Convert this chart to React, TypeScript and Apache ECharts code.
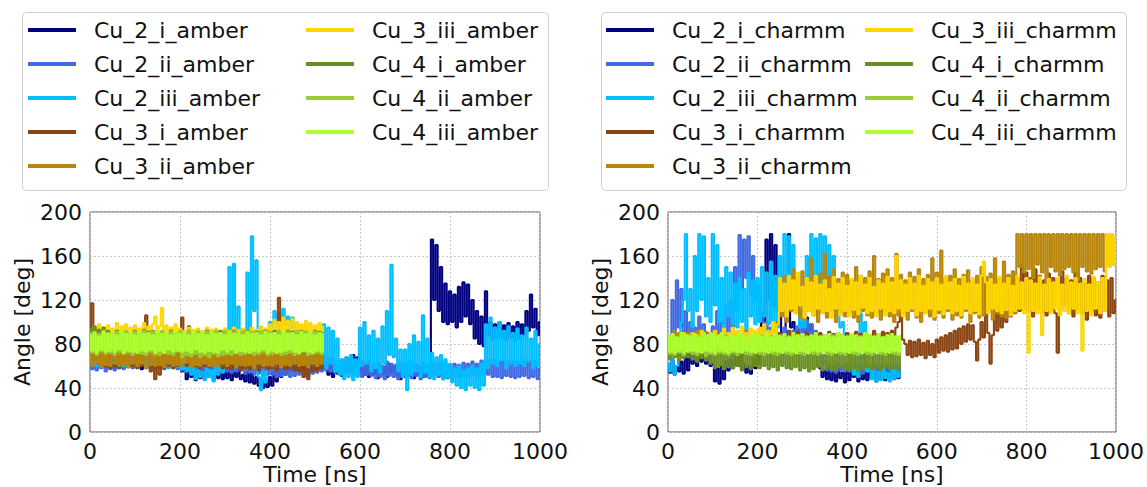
import React, { useEffect, useRef } from "react";
import * as echarts from "echarts";

// time step between samples (ns)
const STEP = 5;
const X_TICKS = [0, 200, 400, 600, 800, 1000];
const Y_TICKS = [0, 40, 80, 120, 160, 200];

const NAMES = ["Cu_2_i", "Cu_2_ii", "Cu_2_iii", "Cu_3_i", "Cu_3_ii", "Cu_3_iii", "Cu_4_i", "Cu_4_ii", "Cu_4_iii"];
const COLORS = ["#000080", "#4169e1", "#00bfff", "#8b4513", "#b8860b", "#ffd700", "#6b8e23", "#9acd32", "#adff2f"];

// ---------- AMBER (angle in degrees, sampled every 5 ns) ----------
const amberCu2i = [
  66,60,68,62,70,61,67,59,69,63,
  64,58,68,61,66,60,70,62,65,59,
  68,61,67,57,66,60,69,62,64,58,
  67,60,68,61,65,59,70,63,66,60,
  62,55,56,48,57,50,58,47,55,49,
  56,48,54,50,57,47,58,49,55,48,
  56,49,58,47,55,50,57,48,52,46,
  55,45,53,44,50,42,48,40,47,41,
  50,42,55,46,58,50,60,52,62,55,
  63,56,62,55,64,57,63,56,65,58,
  64,57,63,56,68,60,52,66,50,62,
  53,64,51,60,54,66,56,70,58,68,
  55,64,52,62,50,60,52,58,49,61,
  53,59,50,62,54,60,51,58,48,57,
  50,60,52,58,49,61,52,60,50,58,
  51,62,175,120,170,110,150,100,135,98,
  128,100,125,95,132,100,136,105,134,98,
  120,85,110,80,105,78,128,88,100,84,
  98,86,100,85,97,84,99,86,96,83,
  100,85,98,88,110,92,125,95,112,88,
  100,
];
const amberCu2ii = [
  64,57,63,56,62,58,64,55,63,57,
  62,56,64,58,63,57,65,59,64,58,
  66,59,65,60,67,58,66,60,65,59,
  66,58,64,57,65,59,66,58,64,57,
  63,56,62,55,64,57,63,56,62,55,
  63,57,64,56,62,55,63,57,62,56,
  62,55,63,54,61,55,62,56,60,53,
  61,54,60,52,59,53,60,51,58,52,
  60,52,58,50,59,51,60,52,58,50,
  59,51,60,52,58,50,59,51,62,53,
  63,54,67,55,66,56,68,55,66,54,
  64,52,66,54,68,56,65,53,62,52,
  64,50,62,52,65,51,63,49,62,50,
  60,48,64,51,62,50,61,48,63,52,
  62,50,64,49,62,51,60,48,63,50,
  61,49,64,51,62,50,63,48,62,49,
  60,48,62,50,61,49,63,50,62,51,
  64,52,62,50,65,51,64,52,66,50,
  65,50,64,49,66,51,64,50,65,49,
  64,50,66,51,65,49,64,50,65,48,
  58,
];
const amberCu2iii = [
  68,62,70,60,67,61,69,63,66,60,
  68,62,67,61,69,60,66,62,68,61,
  67,60,69,62,66,59,68,61,67,60,
  66,59,68,60,67,58,65,60,66,59,
  64,57,62,55,60,52,58,48,56,50,
  55,47,58,50,56,46,60,52,62,54,
  72,64,150,78,153,70,114,68,90,60,
  145,85,178,110,156,50,38,55,45,58,
  100,95,110,98,108,96,112,97,105,94,
  104,92,70,60,75,62,68,58,72,60,
  70,62,68,60,98,58,95,62,92,55,
  85,52,66,48,68,50,70,47,66,50,
  95,60,100,62,88,55,92,58,85,54,
  96,62,110,70,152,68,85,55,75,50,
  75,38,80,52,88,55,82,50,106,54,
  85,50,72,48,68,52,70,48,66,50,
  62,45,58,42,60,40,56,38,58,42,
  60,40,58,38,62,42,98,58,104,62,
  95,60,100,65,92,58,96,62,90,60,
  94,62,88,60,95,64,85,58,92,60,
  80,
];
const amberCu3i = [
  70,117,65,95,62,90,68,60,72,58,
  70,60,72,58,69,61,73,59,70,60,
  71,58,70,60,72,106,68,55,60,48,
  68,52,72,58,70,60,74,58,71,60,
  76,104,75,60,96,62,77,60,78,58,
  76,60,77,59,75,61,78,60,76,58,
  70,58,72,57,70,59,71,56,70,58,
  72,57,70,58,71,56,70,59,72,57,
  70,58,72,56,122,60,71,57,70,58,
  71,56,70,55,72,50,68,48,70,55,
  70,56,72,58,70,
];
const amberCu3ii = [
  74,60,76,62,75,59,77,61,73,60,
  76,62,74,60,77,61,75,59,76,62,
  75,60,78,62,74,58,76,61,75,60,
  77,61,73,59,76,62,75,60,78,61,
  74,60,76,63,75,59,77,61,74,60,
  76,62,75,60,77,61,73,59,76,62,
  75,60,77,62,74,59,76,61,75,60,
  77,61,74,58,76,62,75,60,77,61,
  74,60,76,62,75,59,78,61,74,60,
  76,62,75,60,77,61,74,59,76,62,
  75,60,77,62,74,
];
const amberCu3iii = [
  92,84,96,86,98,85,95,83,97,86,
  94,84,99,85,96,83,98,86,95,84,
  97,85,94,83,99,86,96,84,98,105,
  88,96,113,86,97,84,95,85,98,83,
  94,82,92,84,95,83,93,82,94,84,
  92,83,95,82,93,84,94,83,92,82,
  94,84,92,83,95,82,93,84,94,83,
  92,84,95,83,93,82,96,85,94,84,
  98,86,102,88,100,87,104,86,101,88,
  103,86,100,87,98,85,101,86,99,84,
  97,85,99,84,96,
];
const amberCu4i = [
  94,74,96,76,93,73,95,75,92,74,
  90,73,92,75,89,72,91,74,90,73,
  92,75,90,72,93,74,91,73,92,75,
  90,73,91,74,89,72,92,75,90,73,
  91,74,90,72,92,73,89,75,91,74,
  90,72,92,74,91,73,90,75,92,72,
  91,74,89,73,92,75,90,72,91,74,
  92,73,90,74,91,72,89,75,92,73,
  90,74,92,73,91,75,90,72,92,74,
  91,73,90,74,92,72,91,75,90,73,
  92,74,91,73,90,
];
const amberCu4ii = [
  90,72,91,70,89,73,92,71,90,72,
  89,70,91,73,90,71,92,72,89,70,
  91,72,89,71,92,70,90,73,91,71,
  90,70,92,72,89,71,91,70,90,73,
  91,68,90,70,92,69,89,71,91,68,
  90,70,91,68,89,71,92,69,90,70,
  92,71,90,70,91,72,89,70,92,71,
  90,72,91,70,89,71,92,73,90,70,
  91,71,90,72,92,70,89,71,91,72,
  90,70,92,71,89,73,91,70,90,71,
  91,72,90,71,89,
];
const amberCu4iii = [
  88,74,90,72,87,75,91,73,89,74,
  90,73,88,75,91,72,89,74,90,73,
  88,72,91,74,89,73,90,75,88,72,
  91,74,89,72,90,75,88,73,91,74,
  89,73,90,74,88,72,91,75,89,73,
  90,72,88,74,91,73,89,72,90,75,
  88,73,91,75,89,72,90,74,88,73,
  91,72,89,74,90,73,88,75,91,72,
  89,74,90,72,88,73,91,74,89,75,
  90,73,88,72,91,74,89,73,90,72,
  88,74,90,73,89,
];

// ---------- CHARMM ----------
const charmmCu2i = [
  62,54,66,52,60,55,64,53,68,56,
  70,62,74,60,72,64,76,62,70,60,
  62,46,58,44,60,48,64,56,66,58,
  68,60,70,58,62,54,60,53,66,58,
  70,62,110,90,175,120,180,115,170,110,
  140,90,85,110,180,95,100,88,92,96,
  100,90,104,92,98,86,70,60,58,50,
  56,48,58,47,55,46,57,49,54,45,
  56,47,58,50,55,46,57,48,54,47,
  58,49,56,46,57,48,55,47,58,50,
  56,48,57,49,55,
];
const charmmCu2ii = [
  85,75,120,90,138,95,130,88,110,80,
  100,78,95,80,105,82,98,76,90,78,
  96,80,110,85,100,82,115,90,120,95,
  150,110,179,130,175,140,178,125,160,120,
  135,100,110,90,100,85,95,88,92,84,
  90,82,95,84,88,80,92,85,96,88,
  100,90,102,88,98,86,92,84,70,62,
  64,56,62,55,60,54,62,56,60,55,
  62,55,60,54,61,56,60,53,62,55,
  60,54,62,56,61,55,60,54,62,56,
  60,54,61,55,60,
];
const charmmCu2iii = [
  62,55,66,52,60,80,100,120,180,110,
  130,95,160,110,180,120,178,105,140,100,
  180,115,170,100,140,95,150,105,145,98,
  135,95,140,100,130,92,145,105,138,98,
  140,100,150,105,145,98,155,100,142,95,
  160,110,180,130,178,125,170,120,110,95,
  110,95,160,120,180,130,176,125,180,135,
  178,120,170,115,160,110,120,95,100,85,
  90,70,60,52,58,50,108,90,100,55,
  58,48,56,46,55,47,58,49,54,46,
  56,48,57,50,54,
];
const charmmCu3i = [
  85,72,88,74,86,70,90,73,84,71,
  87,74,85,72,89,75,86,73,88,72,
  84,70,86,73,85,71,88,74,86,72,
  87,73,85,71,88,74,86,72,85,73,
  86,74,88,72,85,73,87,75,86,74,
  90,76,88,78,92,75,89,77,91,76,
  88,75,90,77,87,74,89,76,90,75,
  88,76,91,77,89,75,90,78,88,76,
  90,77,88,75,91,78,89,76,90,77,
  88,76,92,78,89,75,91,77,90,76,
  92,78,95,100,108,84,80,70,83,68,
  82,69,84,70,81,67,83,70,80,68,
  84,72,86,74,88,73,90,75,92,76,
  94,80,96,82,98,84,97,82,65,84,
  100,86,110,90,62,88,112,92,115,95,
  125,100,130,105,138,108,140,110,152,112,
  145,110,140,105,148,112,142,108,138,106,
  144,110,140,108,72,112,146,115,140,108,
  138,105,145,112,140,108,135,102,142,110,
  140,106,136,104,142,110,138,105,140,108,
  120,
];
const charmmCu3ii = [
  78,88,80,92,76,90,82,86,78,90,
  80,88,76,92,82,89,78,91,80,87,
  79,90,82,88,77,92,80,89,83,90,
  78,91,81,88,79,92,82,87,78,90,
  80,92,83,89,78,91,82,94,84,100,
  130,105,142,100,138,110,148,108,140,104,
  146,102,140,110,158,106,138,100,144,108,
  162,104,141,110,148,100,139,108,145,105,
  143,108,138,104,150,100,142,110,140,106,
  146,104,160,108,139,102,144,110,148,105,
  140,100,162,106,143,108,138,102,145,110,
  141,104,148,100,139,108,143,105,158,102,
  145,108,165,104,140,110,142,102,148,106,
  139,104,143,110,147,100,138,108,142,104,
  150,106,141,110,144,102,158,108,139,105,
  155,104,143,110,146,108,180,150,180,145,
  180,148,180,140,180,152,180,145,180,130,
  180,150,180,146,180,142,180,148,180,150,
  180,145,180,138,180,150,180,146,180,144,
  180,148,180,150,180,146,180,150,180,152,
  175,
];
const charmmCu3iii = [
  70,78,72,86,68,84,74,90,72,88,
  76,90,74,88,78,92,75,86,77,90,
  78,92,80,88,76,94,79,90,82,95,
  80,92,78,96,82,90,79,94,81,92,
  84,95,82,98,80,92,85,100,86,98,
  140,110,135,105,142,112,138,108,145,115,
  132,104,140,110,136,106,142,112,134,108,
  138,110,130,104,141,112,135,106,140,110,
  133,105,139,111,136,107,142,113,134,108,
  140,110,132,105,138,112,135,106,141,110,
  136,108,160,112,138,105,134,110,140,112,
  135,106,142,110,133,108,139,112,136,105,
  140,111,134,107,142,112,136,108,139,110,
  133,106,141,112,135,108,140,110,134,107,
  142,155,136,108,139,112,134,110,141,108,
  135,111,140,106,133,110,142,112,136,108,
  140,72,138,110,135,108,141,88,134,110,
  139,108,136,112,140,106,134,110,142,108,
  136,112,140,108,135,74,139,110,134,106,
  141,112,136,108,140,110,180,150,180,152,
  178,
];
const charmmCu4i = [
  76,66,78,68,75,65,77,67,76,68,
  78,66,75,64,77,67,74,65,76,62,
  72,58,74,60,71,57,73,59,72,58,
  74,60,71,56,73,59,72,57,74,60,
  72,58,73,60,71,57,74,59,72,56,
  73,60,71,58,74,57,72,59,70,56,
  72,58,70,55,73,57,71,59,72,56,
  70,58,73,57,71,56,72,59,70,57,
  72,56,71,58,73,55,70,57,72,59,
  71,57,73,58,70,56,72,59,71,57,
  73,58,72,56,70,
];
const charmmCu4ii = [
  86,71,88,70,85,72,87,70,86,73,
  88,71,85,70,87,72,86,69,88,71,
  85,70,87,72,86,71,88,70,85,72,
  87,70,86,73,88,71,85,70,87,72,
  86,71,88,70,85,72,87,71,86,70,
  88,72,85,71,87,70,86,72,88,71,
  85,70,87,72,86,71,88,70,85,73,
  87,71,86,70,88,72,85,71,87,70,
  86,72,88,71,85,70,87,73,86,71,
  88,70,85,72,87,71,86,70,88,72,
  85,71,87,70,86,
];
const charmmCu4iii = [
  88,73,89,72,86,74,90,72,88,73,
  87,74,89,73,86,72,90,74,88,73,
  89,72,87,74,90,73,86,72,88,74,
  87,73,90,72,88,74,86,73,89,72,
  88,74,87,73,90,72,86,74,89,73,
  87,72,89,74,86,73,90,72,88,74,
  89,73,86,72,88,74,90,73,87,72,
  88,74,89,73,86,72,90,74,88,73,
  87,72,89,74,88,73,86,72,90,74,
  88,73,87,72,89,74,86,73,88,72,
  89,74,87,73,88,
];

const AMBER = [amberCu2i, amberCu2ii, amberCu2iii, amberCu3i, amberCu3ii, amberCu3iii, amberCu4i, amberCu4ii, amberCu4iii];
const CHARMM = [charmmCu2i, charmmCu2ii, charmmCu2iii, charmmCu3i, charmmCu3ii, charmmCu3iii, charmmCu4i, charmmCu4ii, charmmCu4iii];

const FONT = "DejaVu Sans";
const TXT = "#111";

function toData(vals: number[]) {
  return vals.map((v, i) => [i * STEP, v]);
}

function makeAxes(gridIndex: number) {
  const split = { show: true, lineStyle: { color: "#c8c8c8", type: [2, 2], width: 1 } };
  const xAxis = {
    type: "value",
    gridIndex,
    min: X_TICKS[0],
    max: X_TICKS[X_TICKS.length - 1],
    interval: X_TICKS[1] - X_TICKS[0],
    name: "Time [ns]",
    nameLocation: "middle",
    nameGap: 31,
    nameTextStyle: { fontSize: 22, color: TXT, fontFamily: FONT },
    axisLine: { show: false },
    axisTick: { show: false },
    axisLabel: { fontSize: 22, color: TXT, fontFamily: FONT, margin: 8, formatter: (v: number) => String(v) },
    splitLine: split,
  };
  const yAxis = {
    type: "value",
    gridIndex,
    min: Y_TICKS[0],
    max: Y_TICKS[Y_TICKS.length - 1],
    interval: Y_TICKS[1] - Y_TICKS[0],
    name: "Angle [deg]",
    nameLocation: "middle",
    nameGap: 57,
    nameRotate: 90,
    nameTextStyle: { fontSize: 22, color: TXT, fontFamily: FONT },
    axisLine: { show: false },
    axisTick: { show: false },
    axisLabel: { fontSize: 22, color: TXT, fontFamily: FONT, margin: 8, formatter: (v: number) => String(v) },
    splitLine: split,
  };
  return { xAxis, yAxis };
}

function legendCol(names: string[], left: number) {
  return {
    data: names,
    orient: "vertical",
    left,
    top: 17,
    padding: 0,
    icon: "rect",
    itemWidth: 48,
    itemHeight: 4,
    itemGap: 8,
    selectedMode: false,
    textStyle: { fontSize: 22, lineHeight: 26, color: TXT, fontFamily: FONT, padding: [0, 0, 0, 13] },
  };
}

export default function App() {
  const ref = useRef<HTMLDivElement>(null);
  useEffect(() => {
    if (!ref.current) return;
    const chart = echarts.init(ref.current, undefined, { renderer: "svg" });
    const a0 = makeAxes(0);
    const a1 = makeAxes(1);
    const series: any[] = [];
    const addSeries = (suffix: string, sets: number[][], axis: number) => {
      NAMES.forEach((n, i) => {
        series.push({
          name: n + suffix,
          type: "line",
          xAxisIndex: axis,
          yAxisIndex: axis,
          data: toData(sets[i]),
          showSymbol: false,
          step: "middle",
          color: COLORS[i],
          lineStyle: { width: 2.1, color: COLORS[i] },
          silent: true,
        });
      });
    };
    addSeries("_amber", AMBER, 0);
    addSeries("_charmm", CHARMM, 1);
    const amberNames = NAMES.map((n) => n + "_amber");
    const charmmNames = NAMES.map((n) => n + "_charmm");
    chart.setOption({
      animation: false,
      backgroundColor: "#fff",
      textStyle: { fontFamily: FONT },
      grid: [
        { left: 90, top: 212, width: 450, height: 220, show: true, borderColor: "#555", borderWidth: 1, backgroundColor: "transparent" },
        { left: 668, top: 212, width: 449, height: 220, show: true, borderColor: "#555", borderWidth: 1, backgroundColor: "transparent" },
      ],
      xAxis: [a0.xAxis, a1.xAxis],
      yAxis: [a0.yAxis, a1.yAxis],
      legend: [
        legendCol(amberNames.slice(0, 5), 28),
        legendCol(amberNames.slice(5), 306),
        legendCol(charmmNames.slice(0, 5), 606),
        legendCol(charmmNames.slice(5), 865),
      ],
      graphic: [
        { type: "rect", z: 0, shape: { x: 22.5, y: 12.5, width: 526, height: 178, r: 4 }, style: { fill: "#fff", stroke: "#cfcfcf", lineWidth: 1 } },
        { type: "rect", z: 0, shape: { x: 601.5, y: 12.5, width: 525, height: 178, r: 4 }, style: { fill: "#fff", stroke: "#cfcfcf", lineWidth: 1 } },
      ],
      series,
    });
    return () => chart.dispose();
  }, []);
  return <div ref={ref} style={{ position: "fixed", left: 0, top: 0, width: 1147, height: 487 }} />;
}
